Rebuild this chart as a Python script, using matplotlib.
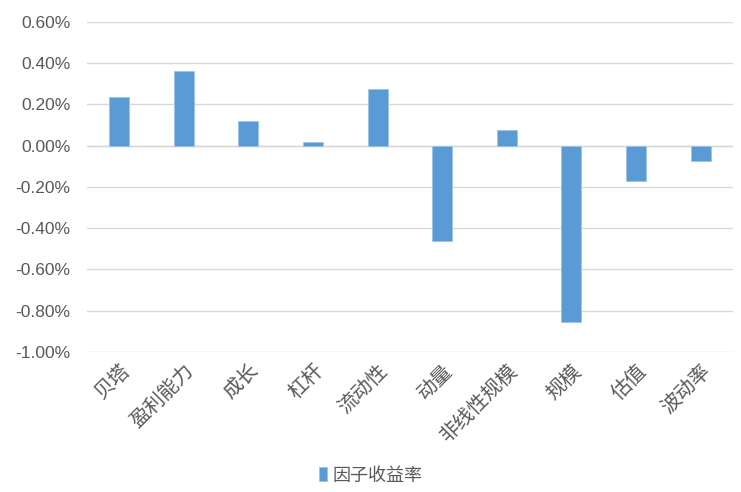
import matplotlib.pyplot as plt
from matplotlib.ticker import FuncFormatter, MultipleLocator
import numpy as np

plt.rcParams['font.family'] = ['Liberation Sans', 'Noto Sans CJK SC', 'DejaVu Sans']

# factor returns (%)
factors = ['贝塔', '盈利能力', '成长', '杠杆', '流动性', '动量', '非线性规模', '规模', '估值', '波动率']
returns = [0.235, 0.364, 0.121, 0.020, 0.276, -0.460, 0.078, -0.853, -0.172, -0.073]
series_name = '因子收益率'

bar_color = '#5b9bd5'
text_color = '#595959'

fig = plt.figure(figsize=(7.41, 4.92), dpi=100)
ax = fig.add_axes([0.1174, 0.2846, 0.8716, 0.6707])

x = np.arange(len(factors))
ax.bar(x, returns, width=0.31, color=bar_color, edgecolor='#9dc3e6', linewidth=0.6,
       label=series_name, zorder=3)

ax.set_xlim(-0.5, len(factors) - 0.5)
ax.set_ylim(-1.0, 0.6)
ax.yaxis.set_major_locator(MultipleLocator(0.2))
ax.yaxis.set_major_formatter(FuncFormatter(lambda v, p: f'{v:.2f}%'))
ax.grid(axis='y', color='#d9d9d9', linewidth=1, zorder=0)
ax.axhline(0, color='#d9d9d9', linewidth=1, zorder=1)

for s in ax.spines.values():
    s.set_visible(False)
ax.tick_params(axis='both', length=0, colors=text_color)
ax.tick_params(axis='y', labelsize=12.5, pad=12)

ax.set_xticks(x)
ax.set_xticklabels(factors, rotation=45, ha='right', rotation_mode='anchor',
                   family=['Noto Sans CJK SC'], fontsize=14.5, color=text_color,
                   fontweight='light')
ax.tick_params(axis='x', pad=6)

leg = fig.legend(loc='lower center', bbox_to_anchor=(0.5, -0.018), frameon=False,
                 handlelength=0.45, handleheight=0.8, handletextpad=0.3,
                 prop={'family': ['Noto Sans CJK SC'], 'size': 13, 'weight': 'light'})
for t in leg.get_texts():
    t.set_color(text_color)

fig.savefig('out.png', dpi=100)
